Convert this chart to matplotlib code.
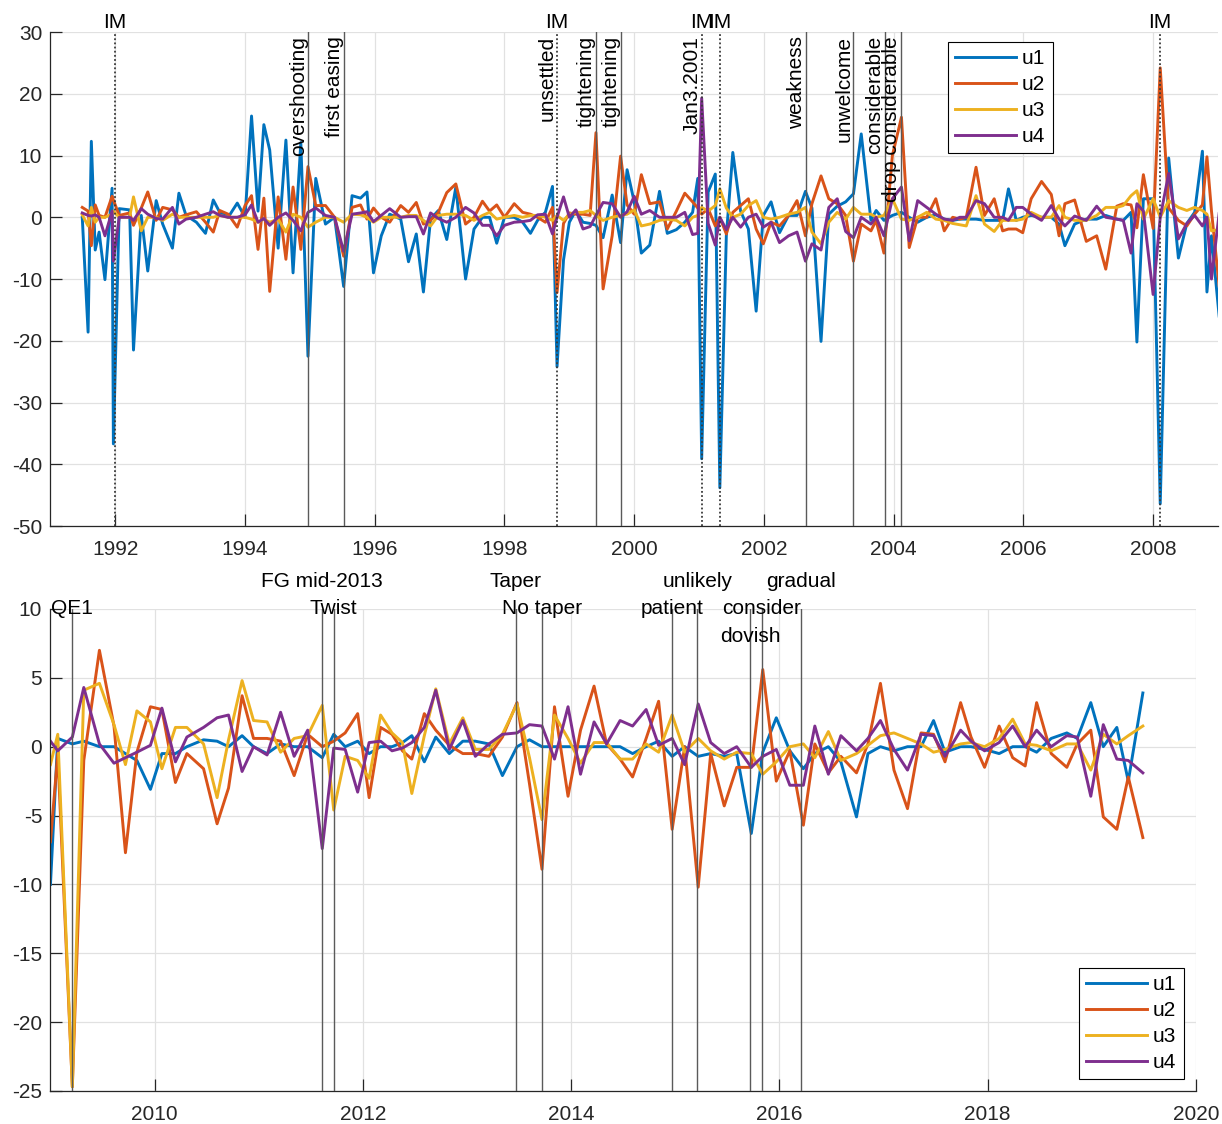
import numpy as np
from matplotlib import pyplot as plt

plt.rcParams['font.family'] = ['Liberation Sans', 'DejaVu Sans']
plt.rcParams['font.size'] = 15
plt.rcParams['axes.unicode_minus'] = False

# ---- data, top panel (1991-2009) ----
dates_top = [
    1991.49, 1991.58, 1991.63, 1991.69, 1991.75, 1991.84, 1991.95, 1991.97,
    1992.06, 1992.22, 1992.28, 1992.40, 1992.50, 1992.63, 1992.73, 1992.88, 1992.98,
    1993.09, 1993.25, 1993.39, 1993.51, 1993.61, 1993.74, 1993.88,
    1994.00, 1994.10, 1994.20, 1994.29, 1994.38, 1994.51, 1994.63, 1994.74, 1994.86, 1994.97,
    1995.09, 1995.24, 1995.38, 1995.52, 1995.65, 1995.78, 1995.88, 1995.98,
    1996.10, 1996.23, 1996.40, 1996.52, 1996.64, 1996.75, 1996.86, 1996.98,
    1997.11, 1997.25, 1997.40, 1997.53, 1997.66, 1997.77, 1997.88,
    1998.00, 1998.15, 1998.28, 1998.40, 1998.51, 1998.63, 1998.74, 1998.81, 1998.91,
    1999.00, 1999.10, 1999.21, 1999.32, 1999.41, 1999.52, 1999.66, 1999.79, 1999.89,
    2000.00, 2000.11, 2000.24, 2000.39, 2000.51, 2000.65, 2000.78, 2000.90, 2000.98,
    2001.04, 2001.14, 2001.25, 2001.32, 2001.42, 2001.52, 2001.64, 2001.76, 2001.88, 2001.99,
    2002.11, 2002.24, 2002.38, 2002.51, 2002.64, 2002.74, 2002.88,
    2003.00, 2003.13, 2003.26, 2003.38, 2003.50, 2003.65, 2003.73, 2003.85, 2003.98,
    2004.12, 2004.24, 2004.37, 2004.51, 2004.65, 2004.78, 2004.91,
    2005.02, 2005.12, 2005.27, 2005.40, 2005.55, 2005.68, 2005.77, 2005.89, 2005.99,
    2006.12, 2006.28, 2006.43, 2006.55, 2006.64, 2006.79, 2006.97,
    2007.13, 2007.27, 2007.44, 2007.54, 2007.66, 2007.75, 2007.85,
    2008.00, 2008.11, 2008.24, 2008.39, 2008.52, 2008.64, 2008.76, 2008.83, 2008.90,
    2009.02, 2009.06]

u1_top = [
    0, -18.6, 12.3, -5.3, -2.4, -10.1, 4.7, -36.7,
    1.4, 1.2, -21.5, 0.3, -8.7, 2.7, -1.1, -5.0, 3.9,
    0.3, -0.8, -2.6, 2.8, 0.8, 0, 2.3,
    0, 16.4, 1.0, 15.0, 10.9, -5.0, 12.5, -9.0, 12.1, -22.5,
    6.3, -1.1, 0, -11.2, 3.5, 3.1, 4.1, -9.0,
    -3.0, 0.5, -0.3, -7.2, -2.7, -12.1, -0.3, 1.1,
    -3.6, 4.9, -10.0, -1.9, 0, 0, -4.2,
    0, 0, -0.8, -2.6, -0.5, 0.8, 5.0, -24.2, -6.9,
    -0.8, 1.1, -0.8, -1.0, -1.3, -3.3, 3.6, -4.1, 7.7,
    2.5, -5.8, -4.5, 4.2, -2.6, -2.0, -0.8, 0.8, 6.3,
    -39.1, 4.1, 7.0, -43.8, -3.0, 10.5, 1.0, -1.9, -15.2, 0.3,
    2.5, -2.5, 0.3, 0.3, 4.2, 1.5, -20.1,
    0.5, 1.8, 2.5, 3.8, 13.5, -0.5, 1.1, -0.5, 0.3,
    0.8, 0, -0.8, 0, 0.4, -0.3, -0.5,
    -0.3, -0.3, -0.3, -0.5, -0.5, -0.5, 4.6, -0.5, 0,
    0.3, 0, 0, -1.1, -4.6, -1.1, -0.3,
    -0.3, 0.3, -0.3, -0.5, 0.8, -20.2, 3.0,
    3.0, -46.4, 9.6, -6.6, -1.0, 0.8, 10.7, -12.1, -3.0,
    -16.2, -9.6]

u2_top = [
    1.6, 1.0, -4.6, 2.0, 0.3, 0, 3.4, 2.8,
    0.3, 0.7, -1.3, 1.5, 4.1, -0.5, 1.6, 1.2, 0,
    0.4, 0.9, -0.8, -2.4, 1.1, 0.5, -1.6,
    1.9, 3.5, -5.2, 3.1, -12.0, 3.3, -6.8, 4.9, -5.2, 8.2,
    1.9, 1.9, 0, -6.3, 1.6, 2.0, -0.3, 1.5,
    0, -0.8, 1.9, 0.8, 2.4, -1.1, -0.5, 0.8,
    4.0, 5.4, -1.1, 0, 2.6, 1.0, 2.0,
    0, 2.2, 0.8, 0.5, 0, -0.8, 1.6, -12.2, -1.0,
    0.7, 0.5, 0.5, 0.3, 13.7, -11.6, -3.0, 9.9, 2.0,
    0.5, 6.9, 2.2, 2.5, -1.9, 1.0, 3.9, 2.5, 1.5,
    0.5, 1.4, -1.4, 0, -2.7, 0.8, 1.9, 3.0, -1.9, -4.3,
    -0.8, -1.4, 0.3, 2.7, -3.0, 2.2, 6.7,
    3.0, 2.2, 0.3, -7.1, -1.1, -2.2, -0.5, -5.8, 10.0,
    16.2, -4.9, 0, 0, 3.0, -2.2, 0,
    -0.3, 0, 8.1, 0.3, 3.0, -2.2, -1.9, -1.9, -2.5,
    3.0, 5.8, 3.7, -3.0, 2.2, 2.8, -3.9,
    -3.0, -8.4, 1.8, 2.2, 2.0, -1.7, 6.9,
    -1.8, 24.2, 1.5, -0.5, -1.4, 0.5, 2.0, 9.8, 1.0,
    -11.3, -6.9]

u3_top = [
    0.4, -1.4, 1.6, -0.8, 0, 0, 0.5, 1.0,
    0, 0, 3.3, -2.2, 0, 0, -0.5, 0.5, 0,
    0, 0, 0, 0, 0.3, 0, 0,
    0, -0.3, -0.8, -0.3, -0.8, -0.3, -2.4, 0.5, 0, -1.6,
    -0.8, 0, 0, -0.8, 0.5, 0.4, 0, -0.8,
    0, 0, 0, 0.3, 0.3, -0.5, -1.4, 0.3,
    0.5, 0.5, 0.3, -0.5, 0.3, 0.8, -0.3,
    0, 0.3, 0, 0.3, 0.3, 0, -0.5, 0.3, -0.5,
    0.5, 0.8, 0.8, 1.1, 0.3, -0.5, 0, 0.3, 0.5,
    1.2, -1.4, -1.1, -0.5, -0.3, -0.5, -1.4, 0, 0.3,
    1.6, 1.0, 1.9, 4.6, 1.5, 0, 0.5, 1.9, 2.7, 0,
    -0.3, 0, 0.5, 0.8, 1.6, -2.4, -4.3,
    -0.8, 0.8, -0.3, 1.6, 0.5, 0.5, 0, 0.3, 3.0,
    -0.3, -0.5, 0, 0.8, -0.3, -0.5, -1.0,
    -1.2, -1.4, 3.5, -1.1, -2.3, -0.5, -0.5, -0.5, -0.3,
    0.8, 0, 0, 1.9, 0, -0.5, -0.5,
    0.3, 1.6, 1.6, 1.9, 3.5, 4.3, -0.3,
    3.0, 0, 2.7, 1.6, 1.1, 1.6, 1.1, 0.5, -2.2,
    -2.0, -1.0]

u4_top = [
    0.7, 0.3, 0.2, 0.4, 0, -3.0, 1.0, -7.1,
    0, 0, -0.5, 1.4, 0.5, -0.2, -0.3, 1.6, -1.1,
    -0.3, 0, 0.5, 0.9, 0.3, 0, 0,
    0.4, 2.0, -0.8, -0.2, -1.3, 0, 0.7, -0.5, -2.2, 0.8,
    1.5, 0.3, 0, -5.5, 0.5, 0.7, 0.9, -0.7,
    0.3, 1.4, 0, 0.1, 0.1, -2.7, 0.7, -0.2,
    -0.8, 0, 1.6, 0.7, -1.3, -1.3, -3.0,
    -1.3, -0.8, -0.7, -0.5, 0.4, 0.5, -2.7, 0, 3.3,
    0, 1.2, -1.9, -1.5, 0.3, 2.4, 2.2, 0, 0.9,
    3.4, 0.5, 1.1, 0, 0, 0, 0.8, -2.8, -2.6,
    19.3, -1.0, -4.5, 0, -2.0, 0, -1.6, 0, 0.5, -1.6,
    -0.8, -4.1, -3.0, -2.4, -7.1, -4.3, -5.3,
    1.6, 3.0, -2.3, -3.3, 0, -1.1, 0, -3.0, 3.0,
    4.9, -3.8, 2.7, 1.6, 0.5, -0.3, -0.5,
    0, 0, 2.7, 2.2, 0, 0, -0.5, 1.6, 1.6,
    0.5, -0.5, 1.9, -0.3, -1.4, 0.2, -0.5,
    1.8, 0, -0.3, -0.5, -5.8, 2.2, 1.0,
    -12.5, 0, 7.1, -3.5, -1.0, 0.3, -1.4, 0, -10.0,
    0.8, 0.5]

# events, top panel
im_dates = [1991.99, 1998.81, 2001.04, 2001.32, 2008.11]
ev_top_dates = [1994.97, 1995.52, 1998.81, 1999.41, 1999.79, 2001.04,
                2002.65, 2003.38, 2003.86, 2004.11]
ev_top_labels = ['overshooting', 'first easing', 'unsettled', 'tightening',
                 'tightening', 'Jan3.2001', 'weakness', 'unwelcome',
                 'considerable', 'drop considerable']
ev_top_solid = [True, True, False, True, True, False, True, True, True, True]

# ---- data, bottom panel (2009-2020) ----
dates_bot = [
    2009.00, 2009.07, 2009.21, 2009.32, 2009.47, 2009.61, 2009.72, 2009.83, 2009.96,
    2010.07, 2010.20, 2010.31, 2010.47, 2010.60, 2010.71, 2010.84, 2010.95,
    2011.08, 2011.21, 2011.34, 2011.47, 2011.61, 2011.72, 2011.83, 2011.95,
    2012.06, 2012.17, 2012.28, 2012.38, 2012.47, 2012.59, 2012.70, 2012.83, 2012.96,
    2013.08, 2013.21, 2013.34, 2013.48, 2013.60, 2013.72, 2013.84, 2013.97,
    2014.09, 2014.22, 2014.34, 2014.47, 2014.59, 2014.72, 2014.84, 2014.97,
    2015.09, 2015.22, 2015.34, 2015.47, 2015.59, 2015.73, 2015.84, 2015.97,
    2016.10, 2016.23, 2016.34, 2016.47, 2016.59, 2016.74, 2016.85, 2016.97,
    2017.10, 2017.23, 2017.36, 2017.48, 2017.59, 2017.74, 2017.84, 2017.97,
    2018.11, 2018.24, 2018.36, 2018.47, 2018.61, 2018.76, 2018.86, 2018.99,
    2019.11, 2019.24, 2019.35, 2019.49]

u1_bot = [
    -10.0, 0.6, 0.2, 0.4, 0, 0, -0.5, -1.0, -3.1,
    -0.5, -0.5, 0, 0.5, 0.4, 0, 0.8, 0,
    -0.5, 0.2, 0, 0, -0.8, 0.9, 0, 0.4,
    -0.5, 0, 0, 0.3, 0.8, -1.1, 0.7, -0.5, 0.4,
    0.4, 0.2, -2.1, 0, 0.5, 0, 0, 0,
    0, 0, 0, 0, -0.5, 0, 0.4, -0.7,
    0, -0.7, -0.5, -0.7, -0.5, -6.3, -0.4, 2.1,
    -0.3, -1.6, -0.5, 0, -1.1, -5.1, -0.5, 0,
    -0.3, 0, 0, 1.9, -0.4, 0, 0, -0.2,
    -0.5, 0, 0, -0.4, 0.6, 1.0, 0.6, 3.2,
    0, 1.4, -2.5, 3.9]

u2_bot = [
    -6.9, -0.5, -24.7, -1.0, 7.0, 1.5, -7.7, -0.4, 2.9,
    2.7, -2.6, -0.5, -1.6, -5.6, -3.0, 3.7, 0.6,
    0.6, 0.4, -2.1, 0.9, 0, 0.4, 1.0, 2.4,
    -3.7, 1.4, 0.9, -0.3, -0.9, 2.4, 1.2, 0.1, -0.5,
    -0.5, -0.7, 0.7, 3.2, -2.7, -8.9, 2.9, -3.6,
    1.2, 4.4, 0.2, -0.9, -2.2, 0.6, 3.3, -6.0,
    0, -10.2, -0.5, -4.3, -1.5, -1.5, 5.6, -2.5,
    -0.3, -5.7, 0.2, -1.9, -0.7, -1.9, 0.2, 4.6,
    -1.7, -4.5, 1.0, 0.9, -1.1, 3.2, 0.7, -1.5,
    1.5, -0.8, -1.4, 3.2, -0.5, -1.5, 0.2, 1.2,
    -5.1, -6.0, -2.2, -6.6]

u3_bot = [
    -1.3, 0.9, -24.7, 4.1, 4.6, 1.6, -1.3, 2.6, 1.8,
    -1.6, 1.4, 1.4, 0.2, -3.7, 0.5, 4.8, 1.9,
    1.8, -0.4, 0.6, 0.8, 3.0, -4.6, -0.7, -1.0,
    -2.3, 2.3, 1.0, 0.3, -3.4, 0.8, 4.2, 0.2, 2.1,
    -0.2, -0.2, 0.9, 3.1, -0.8, -5.3, 2.3, 0.6,
    -1.2, 0.3, 0.3, -0.9, -0.9, 0.2, -0.4, 2.3,
    -0.4, 0.6, -0.3, -0.9, -0.4, -0.5, -2.0, -1.1,
    0, 0.2, -0.8, 1.1, -1.0, -0.5, 0.1, 0.8,
    1.0, 0.6, 0.2, -0.4, -0.2, 0.2, 0.3, 0,
    0.6, 2.0, 0.2, 0.1, -0.3, 0.2, 0.2, -1.7,
    0.9, 0.2, 0.8, 1.5]

u4_bot = [
    0.4, -0.3, 0.7, 4.3, 0.2, -1.2, -0.8, -0.4, 0.1,
    2.8, -1.1, 0.7, 1.4, 2.1, 2.3, -1.8, 0,
    -0.6, 2.5, -0.7, 1.2, -7.4, -0.1, -0.2, -3.3,
    0.3, 0.4, -0.3, -0.1, 0.3, 1.4, 4.1, -0.2, 1.9,
    -0.7, 0.2, 0.9, 1.0, 1.6, 1.5, -0.9, 2.9,
    -2.0, 1.8, 0.2, 1.9, 1.5, 2.7, 0.1, 0.6,
    -1.3, 3.1, 0.3, -0.5, 0, -1.5, -0.7, -0.2,
    -2.8, -2.8, 1.5, -2.0, 0.8, -0.3, 0.6, 1.9,
    -0.2, -1.7, 0.9, 0.8, -0.7, 1.2, 0.4, -0.3,
    0.3, 1.5, 0, 1.2, 0, 0.8, 0.7, -3.6,
    1.6, -0.9, -1.0, -1.9]

ev_bot_dates = [2009.21, 2011.61, 2011.72, 2013.47, 2013.72, 2014.97,
                2015.21, 2015.72, 2015.83, 2016.21]
ev_bot_labels = ['QE1', 'FG mid-2013', 'Twist', 'Taper', 'No taper', 'patient',
                 'unlikely', 'dovish', 'consider', 'gradual']
ev_bot_label_y = [10, 12, 10, 12, 10, 10, 12, 8, 10, 12]

series_names = ['u1', 'u2', 'u3', 'u4']
colors = ['#0072BD', '#D95319', '#EDB120', '#7E2F8E']
axcol = '#262626'

fig = plt.figure(figsize=(12.22, 11.24), dpi=100)
ax1 = fig.add_axes([0.0413, 0.532, 0.9554, 0.4395])
ax2 = fig.add_axes([0.0413, 0.0294, 0.9374, 0.4288])


def style_axes(ax):
    for s in ['top', 'right']:
        ax.spines[s].set_visible(False)
    for s in ['left', 'bottom']:
        ax.spines[s].set_color(axcol)
        ax.spines[s].set_linewidth(0.9)
    ax.tick_params(direction='in', length=8.5, width=0.9, color=axcol,
                   labelcolor=axcol, labelsize=15)
    ax.tick_params(axis='x', pad=10)
    ax.tick_params(axis='y', pad=6)
    ax.grid(True, color='#e1e1e1', linewidth=0.9)
    ax.set_axisbelow(True)


def make_legend(ax, x0, y0):
    leg = ax.legend(loc='upper left', bbox_to_anchor=(x0 / 1222, 1 - y0 / 1124),
                    bbox_transform=fig.transFigure, borderaxespad=0, fontsize=15,
                    handlelength=2.9, handletextpad=0.3, borderpad=0.35,
                    labelspacing=0.33, fancybox=False, framealpha=1)
    leg.get_frame().set_edgecolor('black')
    leg.get_frame().set_linewidth(0.8)
    return leg


# top panel
for d, name, c in zip([u1_top, u2_top, u3_top, u4_top], series_names, colors):
    ax1.plot(dates_top, d, color=c, lw=2.1, label=name, zorder=2)

for x in im_dates:
    ax1.axvline(x, color='#3a3a3a', lw=1.3, ls=(0, (1, 1.3)), zorder=3)
    ax1.text(x, 31.6, 'IM', ha='center', va='center', fontsize=15, clip_on=False)

for x, lab, solid in zip(ev_top_dates, ev_top_labels, ev_top_solid):
    if solid:
        ax1.axvline(x, color='#5a5a5a', lw=1.0, zorder=3)
    ax1.annotate(lab, xy=(x, 30), xytext=(0, -3), textcoords='offset points',
                 rotation=90, ha='right', va='top', fontsize=15)

ax1.set_xlim(1991, 2009)
ax1.set_ylim(-50, 30)
ax1.set_xticks(np.arange(1992, 2009, 2))
ax1.set_yticks(np.arange(-50, 31, 10))
style_axes(ax1)
make_legend(ax1, 948, 42)

# bottom panel
for d, name, c in zip([u1_bot, u2_bot, u3_bot, u4_bot], series_names, colors):
    ax2.plot(dates_bot, d, color=c, lw=2.1, label=name, zorder=2)

for x, lab, ly in zip(ev_bot_dates, ev_bot_labels, ev_bot_label_y):
    ax2.axvline(x, color='#5a5a5a', lw=1.0, zorder=3)
    ax2.text(x, ly, lab, ha='center', va='center', fontsize=15, clip_on=False,
             zorder=4)

ax2.set_xlim(2009, 2020)
ax2.set_ylim(-25, 10)
ax2.set_xticks(np.arange(2010, 2021, 2))
ax2.set_yticks(np.arange(-25, 11, 5))
style_axes(ax2)
make_legend(ax2, 1079, 968)

fig.savefig('out.png', dpi=100)
